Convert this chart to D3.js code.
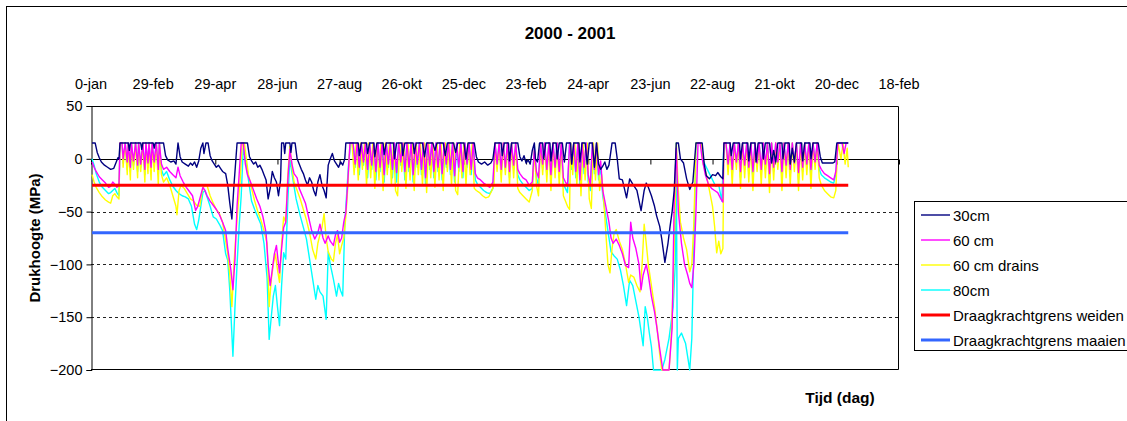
<!DOCTYPE html>
<html>
<head>
<meta charset="utf-8">
<script src="https://cdn.jsdelivr.net/npm/d3@7"></script>
<style>
  html, body { margin: 0; padding: 0; background: #fff; }
  svg { display: block; }
  text { font-family: "Liberation Sans", Arial, Helvetica, sans-serif; fill: #000; }
</style>
</head>
<body>
<svg id="chart" width="1127" height="421"></svg>
<script>
// Day number (Excel serial, 0 = 0-jan-2000) and pressure head values (MPa)
const xTickDays = [0, 60, 120, 180, 240, 300, 360, 420, 480, 540, 600, 660, 720, 780];
const xTickLabels = ["0-jan", "29-feb", "29-apr", "28-jun", "27-aug", "26-okt", "25-dec",
                     "23-feb", "24-apr", "23-jun", "22-aug", "21-okt", "20-dec", "18-feb"];
const yTicks = [50, 0, -50, -100, -150, -200];

const seriesNames = ["30cm", "60 cm", "60 cm drains", "80cm",
                     "Draagkrachtgrens weiden", "Draagkrachtgrens maaien"];

const s30 = [[1,15],[4,15],[6,6],[8,1],[10,-3],[13,-6],[16,-8],[19,-10],[22,-9],[24,-4],[26,1],[27,0],
  [28,15],[36,15],[37,8],[38,15],[48,15],[49,9],[50,15],[60,15],[61,10],[62,15],[70,15],[72,3],
  [74,-1],[77,-3],[80,-2],[82,-5],[84,15],[86,2],[88,-3],[91,-5],[94,-7],[96,-4],[98,-6],[100,-3],[102,-8],[104,-2],[106,10],[108,15],[109,5],[111,15],[113,15],[115,3],[117,-2],[119,-5],[121,-8],[123,-6],[125,-9],[127,-12],[130,-14],[132,-25],[134,-42],[136,-57],[138,-25],[139,-12],
  [141,15],[151,15],[153,2],
  [155,-2],[157,-5],[159,-3],[161,-8],[163,-6],[165,-10],[167,-15],[169,-20],[171,-38],[173,-28],[175,-12],[177,-18],[179,-22],[181,-35],[183,-20],
  [184,15],[186,15],[187,5],[188,15],[192,15],[193,6],[194,15],[197,15],[199,0],
  [201,-5],[203,-10],[205,-14],[207,-20],[209,-25],[211,-18],[213,-22],[215,-30],[217,-35],[219,-22],[221,-15],[223,-25],[225,-30],[227,-37],[229,-6],[231,0],[233,5],[235,-2],[237,-5],[239,-8],[241,-3],[243,-6],[245,0],
  [246,15],[258,15],[259,3],[261,15],[266,15],[267,5],[269,15],[273,15],[274,2],[276,15],[282,15],[283,4],[285,15],[292,15],[293,0],[295,15],[300,15],[301,3],[303,15],[311,15],[312,5],[314,15],[320,15],[322,2],[324,15],[330,15],
  [332,8],[334,15],[340,15],[342,3],[344,15],[350,15],[352,6],[354,15],[360,15],[362,0],[364,15],[370,15],[372,2],[374,-3],[377,-5],[380,-3],[383,-6],[386,-4],[388,0],
  [390,15],[396,15],[397,3],[399,15],[403,15],[404,-2],[406,15],[412,15],[414,2],
  [416,-2],[418,3],[420,-4],[422,-1],[424,-5],[426,8],[428,15],[429,0],[431,-3],[433,15],
  [436,15],[437,0],[439,15],[443,15],[444,-2],[446,15],[449,15],[450,0],[452,15],[455,15],[457,-3],[459,15],[463,15],[464,-5],[466,15],[471,15],[472,-3],[474,15],[477,15],[479,-5],[481,15],[484,15],[486,-8],[488,15],[490,-5],[492,-10],[494,-7],
  [496,-3],[498,-10],[500,-6],[503,15],[506,15],[508,0],[510,-19],[513,-20],[517,-37],[520,-19],[523,-24],[527,-30],[531,-49],[534,-30],[536,-23],[538,-27],[541,-35],[544,-45],[546,-54],[549,-64],[551,-76],[554,-98],[557,-80],[559,-64],[561,-50],[563,-30],[565,15],[567,15],[569,0],[572,-4],[575,-19],[578,-29],[581,-22],[584,15],[590,15],[592,-5],[594,-16],[597,-19],[600,-15],[603,-16],[605,-13],[608,-17],[610,-19],
  [611,15],[617,15],[618,3],[620,15],[626,15],[627,0],[629,15],[634,15],[635,-2],[637,15],[641,15],[642,-3],[644,15],[648,15],[649,0],[651,15],[655,15],[657,-4],[659,8],[661,-3],[663,15],[667,15],[668,0],[670,15],[674,15],[675,-5],[677,10],[679,-3],[681,15],[686,15],[687,-2],[689,15],[694,15],[695,0],[697,15],[702,15],[704,2],[706,-4],[710,-4],[716,-4],[718,-3],[720,15],[731,15]];

const s60 = [[1,-3],[3,-8],[5,-12],[8,-17],[11,-20],[14,-23],[17,-27],[19,-26],[21,-22],[23,-24],[25,-27],[27,-25],
  [28,15],[30,15],[31,0],[33,15],[35,-3],[36,15],[38,-8],[39,15],[41,-2],[43,15],[45,-6],[46,15],[48,-5],[50,15],[52,-10],[53,15],[55,-4],[56,15],[58,-8],[59,15],[61,-3],[63,15],[65,-10],[66,15],[68,-5],[70,-10],
  [73,-8],[76,-12],[79,-15],[82,-18],[84,-8],[86,-16],[89,-22],[92,-27],[95,-31],[98,-35],[101,-49],[103,-45],[105,-38],[108,-27],[110,-30],[112,-35],[115,-40],[118,-44],[121,-48],[124,-53],[127,-60],[130,-68],[132,-85],[135,-105],[137,-124],[139,-95],[141,-45],[143,-15],[145,15],[147,15],
  [149,-5],[151,-15],[154,-22],[157,-30],[160,-38],[163,-45],[166,-55],[169,-70],[171,-100],[173,-120],[175,-105],[177,-90],[179,-82],[181,-100],[182,-108],[184,-85],[186,-65],[188,-60],[190,-20],[192,9],[194,-5],[196,-14],[199,-18],
  [201,-28],[204,-35],[207,-42],[210,-55],[213,-68],[216,-76],[219,-70],[221,-62],[224,-75],[226,-80],[229,-73],[231,-78],[234,-82],[236,-72],[238,-68],[240,-79],[242,-75],[244,-60],[246,-51],[248,-20],[250,15],
  [253,15],[255,-5],[257,15],[259,-8],[261,15],[263,-3],[265,15],[267,-10],[269,15],[271,-6],[273,15],[275,-12],[277,15],[279,-8],[281,15],[283,-15],[285,15],[287,-5],[289,15],[291,-10],[293,15],[295,-13],[297,15],[299,-3],[301,15],[303,-12],[305,15],[307,-8],[309,15],[311,-15],[313,15],[315,-5],[317,15],[319,-10],[321,15],[323,-18],[325,15],[327,-6],[329,15],[331,-12],[333,15],[335,-8],[337,15],[339,-14],[341,15],[343,-5],[345,15],[347,-10],[349,15],[351,-16],[353,15],[355,-8],[357,15],[359,-12],[361,15],[363,-5],[365,15],[367,-10],[369,15],[371,-14],[373,-18],[376,-20],[379,-23],[382,-25],[385,-27],[388,-22],
  [390,15],[392,-5],[394,15],[396,-10],[398,15],[400,-8],[402,15],[404,-12],[406,15],[408,-6],[410,15],[412,-10],[414,-14],
  [417,-18],[420,-20],[423,-25],[426,-22],[428,10],[430,-12],[432,-18],[434,15],
  [436,-5],[438,15],[440,-10],[442,15],[444,-15],[446,15],[448,-8],[450,15],[452,-12],[454,15],[456,-18],[458,-22],[460,-25],[462,15],[464,-5],[466,15],[468,-12],[470,15],[472,-20],[474,15],[476,-8],[478,15],[480,-15],[482,-25],[484,15],[486,-10],[488,15],[490,-15],[492,-2],[494,-30],[497,-45],[500,-60],[502,-75],[504,-80],[507,-76],[510,-82],[513,-90],[516,-101],[519,-103],[521,-60],[523,-75],[526,-85],[529,-100],[531,-124],[533,-110],[536,-100],[538,-110],[541,-130],[544,-145],[546,-158],[549,-180],[552,-200],[558,-200],[561,-160],[563,-40],[565,10],[567,-50],[570,-80],[573,-100],[576,-110],[578,-118],[580,-122],[582,-100],[584,-50],[586,15],[588,15],[590,0],[593,-15],[596,-24],[599,-28],[602,-30],[605,-32],[608,-38],[610,-41],
  [611,15],[613,15],[615,-5],[617,15],[619,-10],[621,15],[623,-3],[625,15],[627,-12],[629,15],[631,-6],[633,15],[635,-8],[637,15],[639,-12],[641,15],[643,-4],[645,15],[647,-10],[649,15],[651,-5],[653,15],[655,-14],[657,15],[659,-8],[661,15],[663,-3],[665,15],[667,-12],[669,15],[671,-6],[673,15],[675,-10],[677,15],[679,-4],[681,15],[683,-13],[685,15],[687,-8],[689,15],[691,-5],[693,15],[695,-10],[697,15],[699,-3],[701,15],[703,-6],[705,-10],[708,-14],[711,-16],[714,-18],[717,-20],[719,-12],[721,15],[725,15],[727,5],[729,15],[731,15]];

const s60drains = [[1,-15],[3,-22],[5,-27],[8,-32],[11,-36],[14,-39],[17,-41],[19,-42],[21,-35],[23,-33],[25,-36],[27,-38],
  [28,15],[30,15],[31,-8],[33,15],[35,-15],[36,15],[38,-20],[39,15],[41,-10],[43,15],[45,-18],[46,15],[48,-12],[50,15],[52,-22],[53,15],[55,-14],[56,15],[58,-20],[59,15],[61,-12],[63,15],[65,-25],[66,15],[68,-15],[70,-22],
  [73,-18],[76,-25],[79,-35],[82,-45],[83,-53],[85,-30],[87,-25],[90,-28],[93,-33],[96,-38],[99,-40],[102,-44],[105,-45],[107,-32],[109,-26],[112,-25],[115,-35],[118,-42],[121,-48],[124,-52],[127,-60],[130,-78],[132,-90],[134,-110],[136,-140],[138,-100],[140,-70],[142,-45],[144,-20],[146,15],[148,15],
  [150,0],[152,-15],[155,-28],[158,-40],[161,-50],[164,-58],[167,-68],[170,-80],[172,-140],[174,-115],[176,-100],[178,-90],[180,-105],[182,-117],[184,-80],[186,-55],[188,-60],[190,-15],[192,12],[194,-8],[196,-22],[199,-30],[202,-38],
  [205,-48],[208,-58],[211,-70],[214,-86],[217,-95],[219,-80],[221,-72],[223,-65],[225,-52],[227,-75],[229,-88],[232,-95],[234,-97],[236,-80],[238,-72],[240,-90],[242,-82],[244,-75],[246,-55],[248,-25],[250,15],
  [252,15],[254,-15],[256,15],[258,-20],[260,15],[262,-10],[264,15],[266,-25],[268,15],[270,-18],[272,15],[274,-28],[276,15],[278,-20],[280,15],[282,-30],[284,15],[286,-15],[288,15],[290,-25],[292,15],[294,-30],[296,-35],[298,15],[300,-12],[302,15],[304,-28],[306,15],[308,-20],[310,15],[312,-30],[314,15],[316,-15],[318,15],[320,-25],[322,15],[324,-32],[326,15],[328,-18],[330,15],[332,-27],[334,15],[336,-20],[338,15],[340,-30],[342,15],[344,-12],[346,15],[348,-25],[350,15],[352,-30],[354,-34],[356,15],[358,-18],[360,15],[362,-25],[364,15],[366,-15],[368,15],[370,-28],[372,-30],[375,-32],[378,-35],[381,-37],[384,-36],[387,-30],[389,-25],
  [390,15],[392,-12],[394,15],[396,-22],[398,15],[400,-15],[402,15],[404,-25],[406,15],[408,-18],[410,15],[412,-28],[414,-32],
  [417,-35],[420,-38],[423,-41],[426,-30],[428,8],[430,-25],[432,-35],[434,15],
  [436,-15],[438,15],[440,-22],[442,15],[444,-30],[446,15],[448,-18],[450,15],[452,-25],[454,15],[456,-35],[458,-40],[460,-45],[462,-48],[463,15],[465,-15],[467,15],[469,-25],[471,15],[473,-35],[475,15],[477,-20],[479,15],[481,-38],[483,-47],[485,15],[487,-20],[489,15],[491,-30],[493,-15],[495,-40],[497,-70],[499,-100],[501,-108],[503,-85],[505,-70],[507,-67],[510,-78],[513,-86],[516,-100],[519,-117],[521,-110],[524,-112],[527,-120],[530,-126],[532,-100],[534,-62],[536,-80],[538,-100],[541,-120],[544,-140],[547,-165],[549,-185],[551,-200],[558,-200],[560,-170],[562,-120],[564,-45],[565,15],[567,-30],[569,-60],[572,-75],[575,-86],[578,-107],[580,-100],[582,-60],[584,15],[589,15],[591,-5],[594,-15],[597,-30],[600,-45],[602,-64],[604,-89],[606,-78],[608,-90],[610,-85],
  [611,15],[613,15],[615,-15],[617,15],[619,-25],[621,15],[623,-10],[625,15],[627,-28],[629,15],[631,-18],[633,15],[635,-22],[637,15],[639,-30],[641,15],[643,-12],[645,15],[647,-25],[649,15],[651,-18],[653,15],[655,-32],[657,15],[659,-20],[661,15],[663,-10],[665,15],[667,-30],[669,15],[671,-18],[673,15],[675,-25],[677,15],[679,-12],[681,15],[683,-30],[685,15],[687,-20],[689,15],[691,-15],[693,15],[695,-28],[697,15],[699,-10],[701,15],[703,-18],[705,-25],[708,-30],[711,-33],[714,-36],[717,-37],[719,-30],[721,15],[724,0],[726,15],[728,-5],[730,10],[731,-8]];

const s80 = [[1,0],[3,-6],[5,-14],[8,-22],[11,-27],[14,-30],[17,-33],[19,-32],[21,-30],[23,-28],[25,-32],[27,-35],
  [28,12],[30,15],[31,-4],[33,15],[35,-10],[36,15],[38,-12],[39,15],[41,-6],[43,15],[45,-12],[46,15],[48,-8],[50,15],[52,-15],[53,15],[55,-8],[56,15],[58,-12],[59,15],[61,-6],[63,15],[65,-15],[66,15],[68,-10],[70,-16],
  [73,-12],[76,-20],[79,-26],[82,-30],[85,-33],[88,-35],[91,-36],[94,-38],[97,-45],[100,-62],[102,-67],[104,-58],[106,-45],[108,-32],[110,-30],[112,-36],[115,-45],[118,-55],[121,-57],[124,-62],[127,-68],[130,-90],[132,-96],[134,-125],[137,-187],[139,-140],[141,-100],[143,-64],[145,-35],[147,10],
  [150,-5],[152,-20],[155,-40],[158,-48],[161,-55],[164,-62],[167,-80],[170,-113],[172,-171],[174,-150],[176,-130],[178,-120],[180,-140],[182,-158],[184,-120],[186,-89],[188,-95],[190,-40],[192,0],[195,-20],[198,-38],[202,-54],
  [205,-65],[208,-76],[211,-95],[214,-114],[217,-133],[219,-120],[221,-126],[224,-130],[227,-152],[229,-88],[231,-100],[234,-114],[237,-130],[239,-118],[241,-125],[243,-130],[245,-62],[247,-30],[249,0],[251,15],
  [253,15],[255,-8],[257,15],[259,-15],[261,15],[263,-6],[265,15],[267,-18],[269,15],[271,-10],[273,15],[275,-20],[277,15],[279,-12],[281,15],[283,-22],[285,15],[287,-8],[289,15],[291,-18],[293,15],[295,-22],[297,15],[299,-6],[301,15],[303,-20],[305,15],[307,-12],[309,15],[311,-22],[313,15],[315,-8],[317,15],[319,-15],[321,15],[323,-25],[325,15],[327,-10],[329,15],[331,-18],[333,15],[335,-12],[337,15],[339,-20],[341,15],[343,-8],[345,15],[347,-15],[349,15],[351,-22],[353,15],[355,-12],[357,15],[359,-18],[361,15],[363,-8],[365,15],[367,-15],[369,15],[371,-20],[373,-24],[376,-27],[379,-30],[382,-32],[385,-33],[388,-28],
  [390,15],[392,-8],[394,15],[396,-15],[398,15],[400,-10],[402,15],[404,-18],[406,15],[408,-10],[410,15],[412,-15],[414,-20],
  [417,-24],[420,-27],[423,-30],[426,-28],[428,12],[430,-18],[432,-25],[434,15],
  [436,-10],[438,15],[440,-15],[442,15],[444,-20],[446,15],[448,-12],[450,15],[452,-18],[454,15],[456,-24],[458,-28],[460,-32],[462,15],[464,-10],[466,15],[468,-18],[470,15],[472,-25],[474,15],[476,-14],[478,15],[480,-22],[482,-30],[484,15],[486,-14],[488,15],[490,-20],[492,-8],[494,-35],[497,-55],[500,-75],[502,-88],[505,-92],[508,-95],[511,-105],[514,-120],[517,-139],[520,-115],[523,-120],[526,-135],[529,-150],[533,-177],[535,-140],[537,-150],[539,-165],[541,-178],[543,-200],[551,-200],[554,-190],[558,-170],[562,-140],[564,-100],[565,15],[566,-200],[567,-170],[570,-165],[574,-175],[578,-200],[580,-170],[582,-80],[584,15],[589,15],[591,-2],[594,-8],[597,-14],[600,-20],[603,-26],[606,-25],[609,-40],
  [611,15],[613,15],[615,-8],[617,15],[619,-15],[621,15],[623,-5],[625,15],[627,-18],[629,15],[631,-10],[633,15],[635,-14],[637,15],[639,-20],[641,15],[643,-6],[645,15],[647,-15],[649,15],[651,-10],[653,15],[655,-22],[657,15],[659,-12],[661,15],[663,-5],[665,15],[667,-18],[669,15],[671,-10],[673,15],[675,-16],[677,15],[679,-6],[681,15],[683,-20],[685,15],[687,-12],[689,15],[691,-8],[693,15],[695,-18],[697,15],[699,-5],[701,15],[703,-10],[705,-15],[708,-18],[711,-20],[714,-22],[717,-23],[719,-15],[721,15],[731,15]];

// Bearing-capacity limits, drawn over the full measuring period
const limitDays = [1, 731];
const limitWeiden = -25;
const limitMaaien = -70;

// ---- drawing ----
const svg = d3.select("#chart");
const plot = { left: 91, right: 899, top: 106, bottom: 370 };

const x = d3.scaleLinear().domain([0, 780]).range([plot.left, plot.right]);
const y = d3.scaleLinear().domain([-200, 50]).range([plot.bottom, plot.top]);

// outer chart frame
svg.append("rect")
  .attr("x", 6.5).attr("y", 6.5).attr("width", 1140).attr("height", 430)
  .attr("fill", "#fff").attr("stroke", "#000").attr("stroke-width", 1);

// title
svg.append("text")
  .attr("x", 570).attr("y", 39).attr("text-anchor", "middle")
  .style("font-size", "17px").style("font-weight", "bold")
  .text("2000 - 2001");

// dashed gridlines
svg.append("g").selectAll("line")
  .data([-50, -100, -150])
  .join("line")
  .attr("x1", plot.left).attr("x2", plot.right)
  .attr("y1", d => Math.round(y(d)) + 0.5).attr("y2", d => Math.round(y(d)) + 0.5)
  .attr("stroke", "#222").attr("stroke-width", 1).attr("stroke-dasharray", "3,3");

// plot area frame (top, right, bottom)
svg.append("path")
  .attr("d", `M${plot.left},${plot.top + 0.5}H${plot.right - 0.5}V${plot.bottom - 0.5}H${plot.left}`)
  .attr("fill", "none").attr("stroke", "#000").attr("stroke-width", 1);

// y axis
const yAxis = d3.axisLeft(y).tickValues(yTicks).tickSize(5).tickPadding(4).tickFormat(d3.format("d"));
const gy = svg.append("g").attr("transform", `translate(${plot.left + 0.5},0)`).call(yAxis);
gy.attr("font-family", null).attr("font-size", null);
gy.select(".domain").attr("stroke", "#000");
gy.selectAll(".tick line").attr("stroke", "#000");
gy.selectAll(".tick text").style("font-size", "14.5px").attr("fill", "#000");

// x axis drawn along the zero line, labels placed above the plot area
const xAxis = d3.axisBottom(x).tickValues(xTickDays).tickSize(5).tickFormat(() => "");
const gx = svg.append("g").attr("transform", `translate(0,${Math.round(y(0)) + 0.5})`).call(xAxis);
gx.attr("font-family", null).attr("font-size", null);
gx.select(".domain").attr("stroke", "#000").attr("d", `M${plot.left},0H${plot.right}`);
gx.selectAll(".tick line").attr("stroke", "#000");

svg.append("g").selectAll("text")
  .data(xTickDays)
  .join("text")
  .attr("x", d => x(d)).attr("y", 89)
  .attr("text-anchor", "middle")
  .style("font-size", "14.5px")
  .text((d, i) => xTickLabels[i]);

// axis titles
svg.append("text")
  .attr("transform", "translate(40,238) rotate(-90)")
  .attr("text-anchor", "middle")
  .style("font-size", "15px").style("font-weight", "bold")
  .text("Drukhoogte (MPa)");

svg.append("text")
  .attr("x", 840).attr("y", 403).attr("text-anchor", "middle")
  .style("font-size", "15.5px").style("font-weight", "bold")
  .text("Tijd (dag)");

// data lines, clipped to the plot area
svg.append("clipPath").attr("id", "plotClip")
  .append("rect").attr("x", plot.left).attr("y", plot.top)
  .attr("width", plot.right - plot.left).attr("height", plot.bottom - plot.top + 1);

const line = d3.line().x(d => x(d[0])).y(d => y(d[1]));
const series = [
  { name: seriesNames[3], data: s80, color: "#00FFFF", width: 1.4 },
  { name: seriesNames[2], data: s60drains, color: "#FFFF00", width: 1.4 },
  { name: seriesNames[1], data: s60, color: "#FF00FF", width: 1.4 },
  { name: seriesNames[0], data: s30, color: "#000080", width: 1.4 },
  { name: seriesNames[4], data: limitDays.map(d => [d, limitWeiden]), color: "#FF0000", width: 3 },
  { name: seriesNames[5], data: limitDays.map(d => [d, limitMaaien]), color: "#3366FF", width: 3 }
];

const gLines = svg.append("g").attr("clip-path", "url(#plotClip)");
gLines.selectAll("path")
  .data(series)
  .join("path")
  .attr("d", d => line(d.data))
  .attr("fill", "none")
  .attr("stroke", d => d.color)
  .attr("stroke-width", d => d.width)
  .attr("stroke-linejoin", "round");

// legend, listed in series order
const legendItems = [series[3], series[2], series[1], series[0], series[4], series[5]];
const lg = svg.append("g");
lg.append("rect")
  .attr("x", 914.5).attr("y", 201.5).attr("width", 240).attr("height", 149)
  .attr("fill", "#fff").attr("stroke", "#000").attr("stroke-width", 1);
const rows = lg.selectAll("g.row")
  .data(legendItems)
  .join("g")
  .attr("class", "row")
  .attr("transform", (d, i) => `translate(0,${215 + i * 25})`);
rows.append("line")
  .attr("x1", 921).attr("x2", 950).attr("y1", 0).attr("y2", 0)
  .attr("stroke", d => d.color).attr("stroke-width", d => d.width);
rows.append("text")
  .attr("x", 953).attr("y", 5.5)
  .style("font-size", "15px")
  .text(d => d.name);
</script>
</body>
</html>
